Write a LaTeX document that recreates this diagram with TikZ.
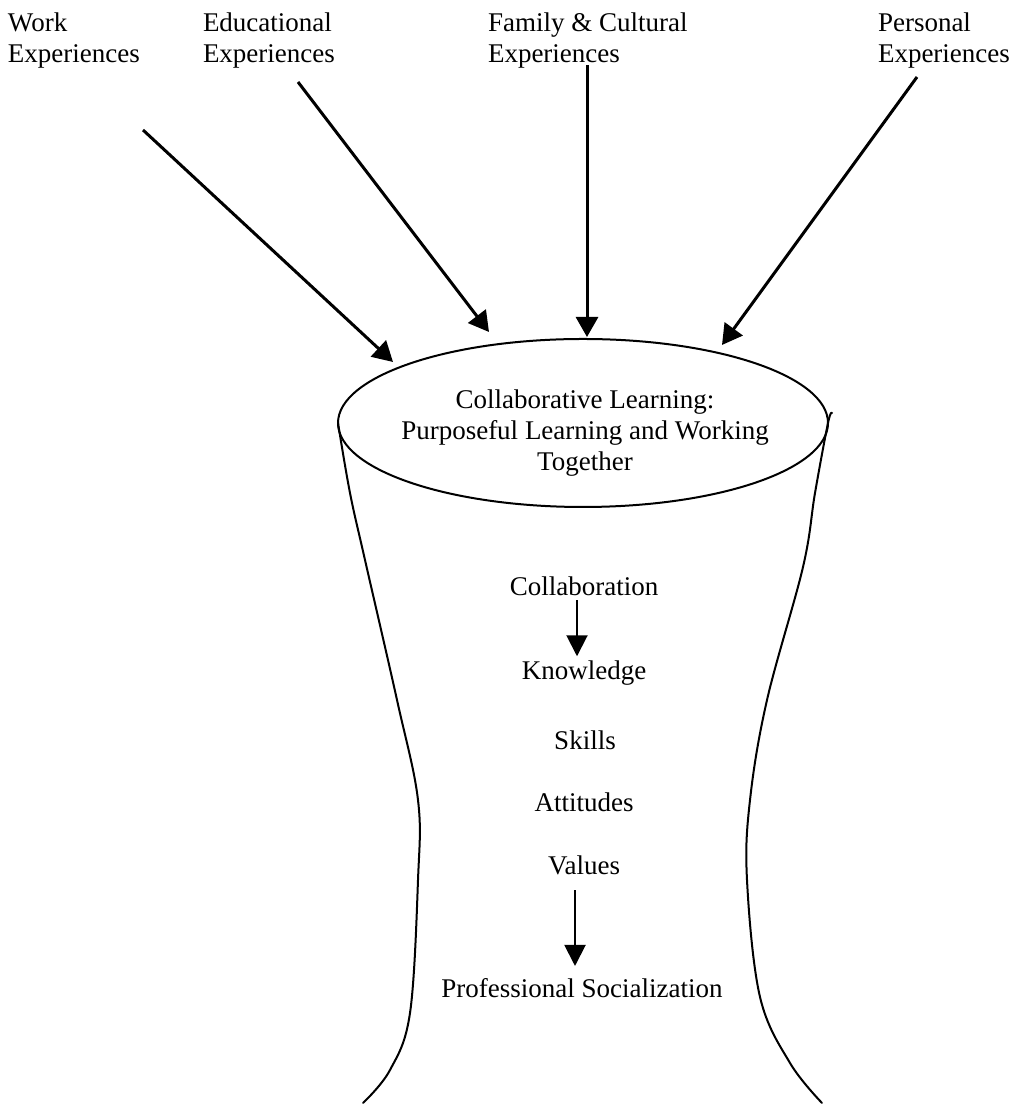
\documentclass[tikz,border=0pt]{standalone}
\usepackage{fontspec}
\setmainfont{Liberation Serif}
\usepackage{tikz}
\usetikzlibrary{arrows.meta,shapes.geometric}

\begin{document}
\begin{tikzpicture}[x=1pt,y=1pt,
  lbl/.style={text=drawColor,inner sep=0pt,outer sep=0pt,font=\fontsize{27}{31}\selectfont},
  toplbl/.style={lbl,align=left,anchor=base west},
  midlbl/.style={lbl,anchor=base},
  bigarr/.style={draw=drawColor,line width=3pt,-{Triangle[length=20pt,width=22pt]}},
  smallarr/.style={draw=drawColor,line width=2pt,-{Triangle[length=21pt,width=21pt]}},
  rimline/.style={draw=drawColor,line width=2pt,line join=round,line cap=round}]
\definecolor[named]{drawColor}{rgb}{0.00,0.00,0.00}
\path[use as bounding box,fill=white] (0,0) rectangle (1013,1113);

\node[toplbl] (work) at (  8,1050) {Work\\Experiences};
\node[toplbl] (edu)  at (203,1050) {Educational\\Experiences};
\node[toplbl] (fam)  at (488,1050) {Family \& Cultural\\Experiences};
\node[toplbl] (pers) at (878,1050) {Personal\\Experiences};

\coordinate (workFrom) at (143, 983);
\coordinate (eduFrom)  at (298,1031);
\coordinate (famFrom)  at (587,1048);
\coordinate (persFrom) at (917,1036);
\coordinate (workTo)   at (393, 751);
\coordinate (eduTo)    at (489, 781);
\coordinate (famTo)    at (587, 776);
\coordinate (persTo)   at (722, 768);

\path[bigarr] (workFrom) -- (workTo);
\path[bigarr] (eduFrom) -- (eduTo);
\path[bigarr] (famFrom) -- (famTo);
\path[bigarr] (persFrom) -- (persTo);

\node[ellipse,draw=drawColor,line width=2pt,inner sep=0pt,minimum width=490pt,
  minimum height=168pt] (rim) at (583,690) {};
\node[lbl,align=center] (learn) at (585,680) {Collaborative Learning:\\Purposeful Learning and Working\\Together};

\path[rimline] (rim.west) plot[smooth,tension=0.6] coordinates {(338,690) (350,620) (365,553) (397,413) (418,313)
  (418,233) (410,100) (390,43) (363,10)};
\path[rimline] plot[smooth,tension=0.6] coordinates {(832,700) (828,690) (815,620) (803,546) (767,413) (750,313)
  (747,233) (760,116) (790,50) (822,10)};

\node[midlbl] (collab) at (584,517) {Collaboration};
\node[midlbl] (know)   at (584,433) {Knowledge};
\node[midlbl] (skill)  at (585,363) {Skills};
\node[midlbl] (att)    at (584,301) {Attitudes};
\node[midlbl] (val)    at (584,238) {Values};
\node[midlbl] (prof)   at (582,115) {Professional Socialization};

\path[smallarr,shorten <=4pt,shorten >=5pt] ([xshift=-7pt]collab.south) -- ([xshift=-7pt]know.north);
\path[smallarr,shorten <=15pt,shorten >=13pt] ([xshift=-9pt]val.south) -- ([xshift=-7pt]prof.north);
\end{tikzpicture}
\end{document}
